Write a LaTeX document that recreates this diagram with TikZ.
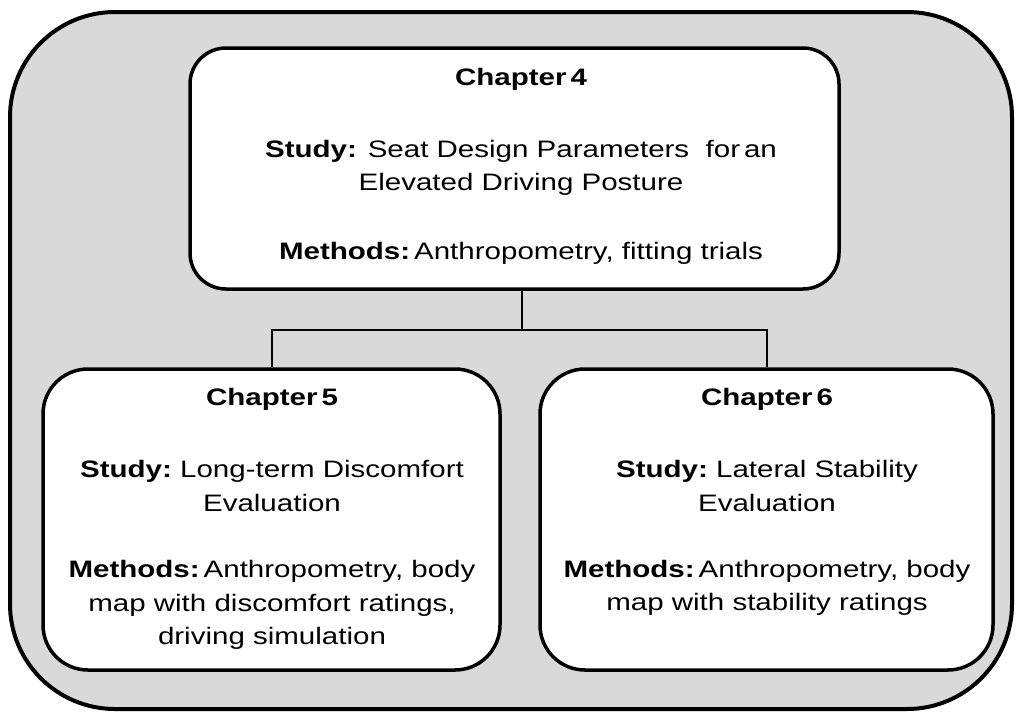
\documentclass[tikz,border=0pt]{standalone}
\usepackage{fontspec}
\setmainfont[FakeStretch=1.24]{Liberation Sans}
\definecolor{panelgray}{HTML}{D9D9D9}
\begin{document}
\begin{tikzpicture}[x=1pt,y=-1pt,
  outerbox/.style={draw=black,fill=panelgray,line width=4pt,rounded corners=105pt},
  chapbox/.style={draw=black,fill=white,line width=3.5pt,rectangle,inner sep=0pt},
  conn/.style={draw=black,line width=2pt},
  txt/.style={font=\fontsize{23.8}{33.5}\selectfont,align=center,inner sep=0pt,text=black},
  ttl/.style={font=\fontsize{23.8}{33.5}\selectfont\bfseries,inner sep=0pt,text=black}]
\useasboundingbox (0,0) rectangle (1017,713);
\path[outerbox] (10,12) rectangle (1012,709);
\node[chapbox,rounded corners=36pt,minimum width=649pt,minimum height=241pt] (top) at (514.5,168.5) {};
\node[chapbox,rounded corners=45pt,minimum width=457pt,minimum height=301pt] (b5) at (271.5,519.5) {};
\node[chapbox,rounded corners=45pt,minimum width=453pt,minimum height=301pt] (b6) at (766.5,519.5) {};
\coordinate (j) at (522,330);
\draw[conn] (j |- top.south) -- (j);
\draw[conn] (b5.north) |- (j) -| (b6.north);
% top box text
\node[ttl] (t4) at (521,79) {Chapter\,4};
\node[txt] (s4) at (521,168) {\textbf{Study:} Seat Design Parameters\ \ for\,an\\Elevated Driving Posture};
\node[txt] (m4) at (521,253) {\textbf{Methods:}\,Anthropometry,\ fitting trials};
% chapter 5
\node[ttl] (t5) at (272,399) {Chapter\,5};
\node[txt] (s5) at (272,486) {\textbf{Study:}\ Long-term Discomfort\\Evaluation};
\node[txt] (m5) at (272,605) {\textbf{Methods:}\,Anthropometry,\ body\\map with discomfort ratings,\\driving simulation};
% chapter 6
\node[ttl] (t6) at (767,399) {Chapter\,6};
\node[txt] (s6) at (767,486) {\textbf{Study:}\ Lateral Stability\\Evaluation};
\node[txt] (m6) at (767,588) {\textbf{Methods:}\,Anthropometry,\ body\\map with\ stability\ ratings};
\end{tikzpicture}
\end{document}
